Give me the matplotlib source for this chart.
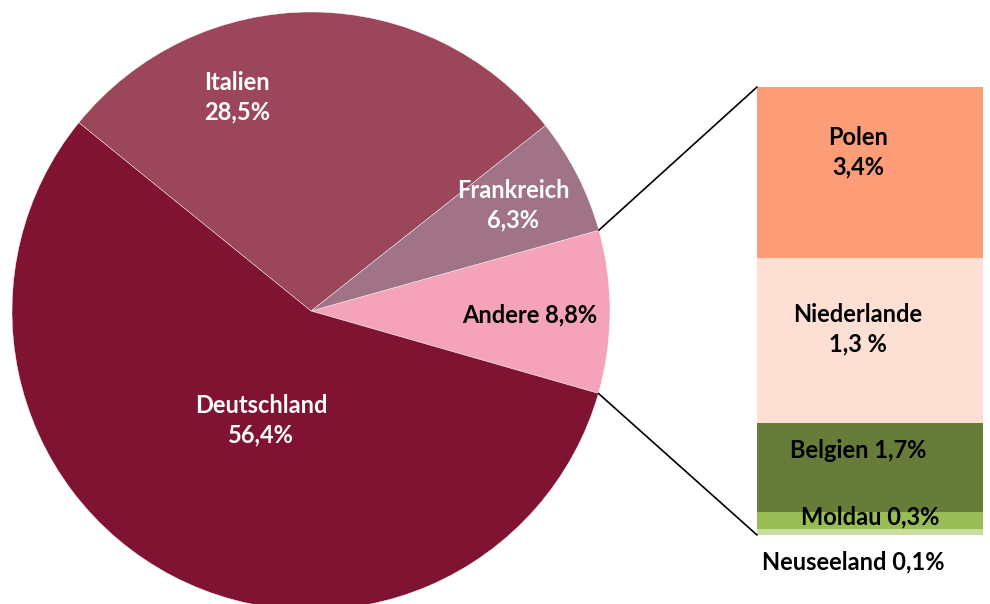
import matplotlib.pyplot as plt
from matplotlib.patches import ConnectionPatch
import numpy as np

# Kreisdiagramm (gegen den Uhrzeigersinn, ab "Andere")
laender = ['Andere', 'Frankreich', 'Italien', 'Deutschland']
anteile = [8.8, 6.3, 28.5, 56.4]
farben_kreis = ['#f4a3ba', '#a07486', '#9c465c', '#7f1331']

# Aufteilung "Andere" (von unten nach oben), Hoehen
andere_laender = ['Neuseeland', 'Moldau', 'Belgien', 'Niederlande', 'Polen']
andere_werte = [0.12, 0.33, 1.75, 3.25, 3.35]
andere_labels = ['Neuseeland 0,1%', 'Moldau 0,3%', 'Belgien 1,7%', 'Niederlande\n1,3 %', 'Polen\n3,4%']
farben_balken = ['#c9dea0', '#98bd55', '#687c3a', '#fedfd3', '#fd9d78']

plt.rcParams['font.family'] = ['Lato', 'DejaVu Sans']

W, H = 990, 604
fig = plt.figure(figsize=(W / 100, H / 100), dpi=100)

# Achsen fuer den Kreis
ax = fig.add_axes([12 / W, (H - 610) / H, 598 / W, 598 / H])
startwinkel = -16
ax.pie(anteile, colors=farben_kreis, startangle=startwinkel, counterclock=True,
       wedgeprops=dict(edgecolor='white', linewidth=0.3))
ax.set_xlim(-1, 1)
ax.set_ylim(-1, 1)
ax.set_aspect('equal')
ax.axis('off')

# Achsen fuer den Balken
summe = sum(andere_werte)
axb = fig.add_axes([757 / W, (H - 535) / H, 226 / W, 448 / H])
unten = 0
for wert, farbe in zip(andere_werte, farben_balken):
    axb.bar(0, wert, bottom=unten, width=1, color=farbe, edgecolor='none')
    unten += wert
axb.set_xlim(-0.5, 0.5)
axb.set_ylim(0, summe)
axb.axis('off')

# Verbindungslinien
w1 = np.deg2rad(startwinkel + anteile[0] / 100 * 360)
w0 = np.deg2rad(startwinkel)
for winkel, yb in [(w1, summe), (w0, 0)]:
    con = ConnectionPatch(xyA=(np.cos(winkel), np.sin(winkel)), coordsA=ax.transData,
                          xyB=(-0.5, yb), coordsB=axb.transData,
                          color='black', linewidth=1.2)
    fig.add_artist(con)

fs = 17
def txt(x, y, s, c='black'):
    fig.text(x / W, 1 - y / H, s, ha='center', va='center', fontsize=fs,
             fontweight='bold', color=c, linespacing=1.35)

# Beschriftungen Kreis
txt(237, 97, 'Italien\n28,5%', 'white')
txt(513, 205, 'Frankreich\n6,3%', 'white')
txt(530, 315, 'Andere 8,8%')
txt(261, 420, 'Deutschland\n56,4%', 'white')

# Beschriftungen Balken
txt(858, 152, andere_labels[4])
txt(858, 329, andere_labels[3])
txt(858, 450, andere_labels[2])
txt(870, 517, andere_labels[1])
txt(853, 562, andere_labels[0])

fig.savefig('out.png', dpi=100)
